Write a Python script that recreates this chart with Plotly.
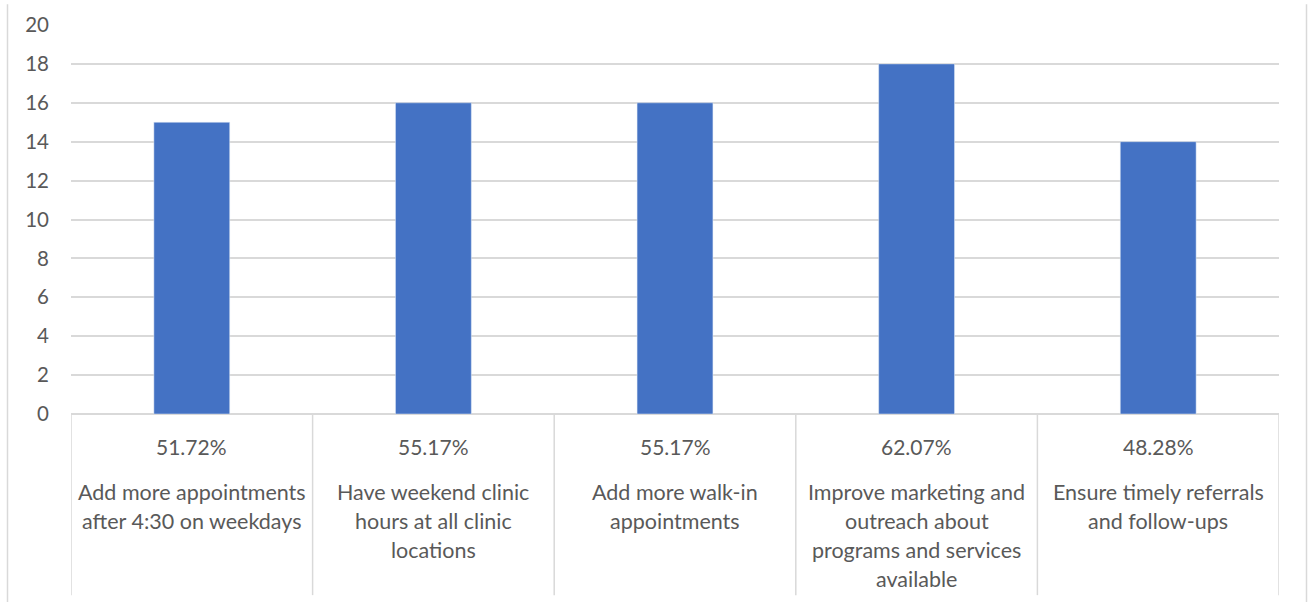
import plotly.graph_objects as go

categories = [
    "Add more appointments<br>after 4:30 on weekdays",
    "Have weekend clinic<br>hours at all clinic<br>locations",
    "Add more walk-in<br>appointments",
    "Improve marketing and<br>outreach about<br>programs and services<br>available",
    "Ensure timely referrals<br>and follow-ups",
]
percent_labels = ["51.72%", "55.17%", "55.17%", "62.07%", "48.28%"]
counts = [15, 16, 16, 18, 14]

W, H = 1308, 604
ML, MR, MT, MB = 71, 29, 21, 190
plot_w = W - ML - MR
plot_h = H - MT - MB

txt = "#595959"
grid = "#D9D9D9"
font = "Lato, Carlito, Calibri, sans-serif"

fig = go.Figure(go.Bar(
    x=list(range(len(counts))),
    y=counts,
    marker_color="#4472C4",
    width=0.314,
))

anns = []
for i, (pct, cat) in enumerate(zip(percent_labels, categories)):
    anns.append(dict(x=i, y=0, xref="x", yref="paper", text=pct, showarrow=False,
                     yanchor="middle", yshift=-32, font=dict(size=21, color=txt, family=font)))
    # one annotation per line so the spacing matches Excel's
    for j, line in enumerate(cat.split("<br>")):
        anns.append(dict(x=i, y=0, xref="x", yref="paper", text=line, showarrow=False,
                         yanchor="middle", yshift=-78 - 29 * j,
                         font=dict(size=21.5, color=txt, family=font)))

shapes = []
sep_bottom = -183 / plot_h
for k in range(len(counts) + 1):
    shapes.append(dict(type="line", xref="x", yref="paper", x0=k - 0.5, x1=k - 0.5,
                       y0=0, y1=sep_bottom, line=dict(color=grid, width=1.5)))
# chart area border, left and right
for px_x in (7.5, 1306.5):
    xp = (px_x - ML) / plot_w
    shapes.append(dict(type="line", xref="paper", yref="paper", x0=xp, x1=xp,
                       y0=-MB / plot_h, y1=1 + MT / plot_h,
                       line=dict(color=grid, width=1.5)))

fig.update_layout(
    width=W, height=H,
    margin=dict(l=ML, r=MR, t=MT, b=MB),
    paper_bgcolor="white", plot_bgcolor="white",
    showlegend=False,
    font=dict(family=font, color=txt, size=21),
    xaxis=dict(range=[-0.5, len(counts) - 0.5], showticklabels=False, showgrid=False,
               zeroline=False, showline=False, ticks=""),
    yaxis=dict(range=[0, 20], dtick=2, showgrid=True, gridcolor=grid, gridwidth=1.5,
               zeroline=True, zerolinecolor=grid, zerolinewidth=1.5, showline=False,
               tickfont=dict(size=20.5, color=txt, family=font), ticklabelstandoff=21),
    annotations=anns,
    shapes=shapes,
)

fig.write_html("out.html", config={"displayModeBar": False},
               post_script="document.body.style.margin='0';")
